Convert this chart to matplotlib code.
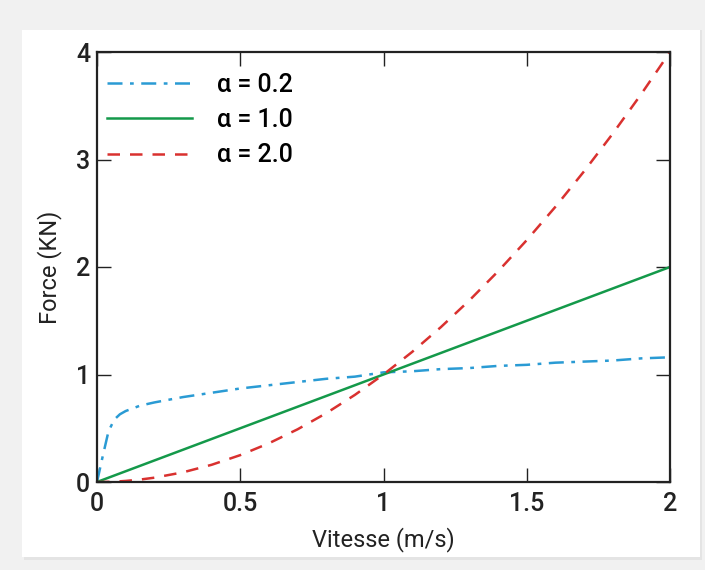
import matplotlib.pyplot as plt
from matplotlib.patches import Rectangle

# values
vitesse = [0, 0.02, 0.04, 0.06, 0.08, 0.1, 0.15, 0.2, 0.3, 0.4, 0.5, 0.6,
           0.7, 0.8, 0.9, 1.0, 1.1, 1.2, 1.3, 1.4, 1.5, 1.6, 1.7, 1.8, 1.9, 2.0]
force_a02 = [0, 0.24, 0.47, 0.58, 0.63, 0.66, 0.71, 0.74, 0.79, 0.83, 0.87, 0.90,
             0.93, 0.96, 0.98, 1.02, 1.03, 1.05, 1.06, 1.08, 1.09, 1.11, 1.12, 1.13, 1.15, 1.16]
force_a10 = [0, 0.02, 0.04, 0.06, 0.08, 0.1, 0.15, 0.2, 0.3, 0.4, 0.5, 0.6,
             0.7, 0.8, 0.9, 1.0, 1.1, 1.2, 1.3, 1.4, 1.5, 1.6, 1.7, 1.8, 1.9, 2.0]
force_a20 = [0, 0.0004, 0.0016, 0.0036, 0.0064, 0.01, 0.0225, 0.04, 0.09, 0.16, 0.25, 0.36,
             0.49, 0.64, 0.81, 1.0, 1.21, 1.44, 1.69, 1.96, 2.25, 2.56, 2.89, 3.24, 3.61, 4.0]
labels = ["α = 0.2", "α = 1.0", "α = 2.0"]
x_ticks = [0, 0.5, 1, 1.5, 2]
x_tick_labels = ["0", "0.5", "1", "1.5", "2"]
y_ticks = [0, 1, 2, 3, 4]

plt.rcParams['font.family'] = ['Roboto', 'Liberation Sans', 'DejaVu Sans']
plt.rcParams['font.weight'] = 'medium'

fig = plt.figure(figsize=(7.05, 5.70), dpi=100, facecolor='#f1f1f1')

# white card behind the chart
W, H = 705, 570
fig.patches.append(Rectangle((24 / W, 1 - 560 / H), 678 / W, 530 / H,
                             transform=fig.transFigure, facecolor='#e4e4e4',
                             edgecolor='none', zorder=-10))
fig.patches.append(Rectangle((22 / W, 1 - 557 / H), 678 / W, 527 / H,
                             transform=fig.transFigure, facecolor='white',
                             edgecolor='none', zorder=-9))

ax = fig.add_axes([97 / W, 1 - 482 / H, 573 / W, 430 / H])
ax.set_facecolor('white')

ax.plot(vitesse, force_a02, color='#2a9bd4', linestyle=(0, (6, 3, 1.5, 3)), lw=1.8, label=labels[0])
ax.plot(vitesse, force_a10, color='#14994a', linestyle='-', lw=1.8, label=labels[1])
ax.plot(vitesse, force_a20, color='#d9312f', linestyle=(0, (5, 4)), lw=1.8, label=labels[2])

ax.set_xlim(0, 2)
ax.set_ylim(0, 4)
ax.set_xticks(x_ticks)
ax.set_xticklabels(x_tick_labels)
ax.set_yticks(y_ticks)
ax.tick_params(direction='in', length=10, width=1, top=True, right=True,
               labelsize=18, pad=5, colors='#222222')
ax.tick_params(axis='x', pad=7)
for s in ax.spines.values():
    s.set_linewidth(1.6)
    s.set_color('#222222')

ax.set_xlabel("Vitesse (m/s)", fontsize=17, labelpad=8, color='#222222')
ax.set_ylabel("Force (KN)", fontsize=17, labelpad=10, color='#222222')

ax.legend(loc='upper left', frameon=False, fontsize=18, handlelength=3.4,
          handletextpad=1.0, labelspacing=0.45, borderaxespad=0.0,
          bbox_to_anchor=(0.0, 0.975))

fig.savefig("out.png", dpi=100, facecolor=fig.get_facecolor())
